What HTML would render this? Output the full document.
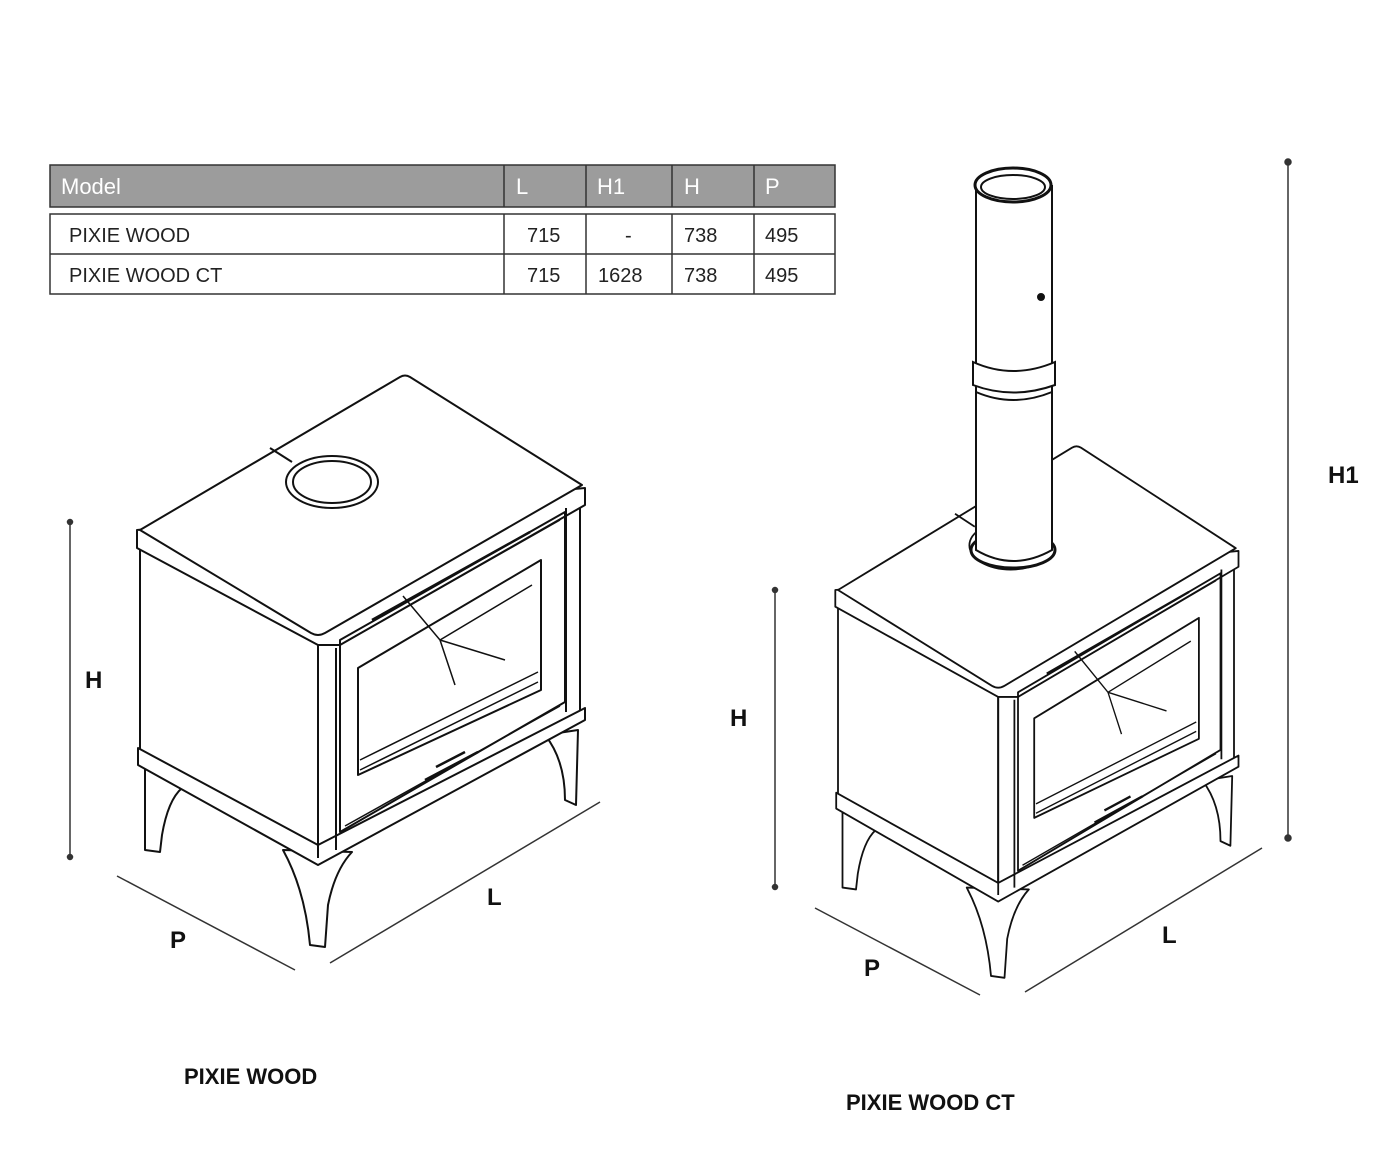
<!DOCTYPE html>
<html><head><meta charset="utf-8"><style>
body{margin:0;background:#fff;width:1400px;height:1152px;overflow:hidden}
svg{position:absolute;left:0;top:0}
text{font-family:"Liberation Sans",sans-serif}
</style></head><body>
<svg width="1400" height="1152" viewBox="0 0 1400 1152">
<g stroke="#333" stroke-width="1.5">
<rect x="50" y="165" width="785" height="42" fill="#9c9c9c"/>
<line x1="504" y1="165" x2="504" y2="207"/><line x1="586" y1="165" x2="586" y2="207"/>
<line x1="672" y1="165" x2="672" y2="207"/><line x1="754" y1="165" x2="754" y2="207"/>
<rect x="50" y="214" width="785" height="80" fill="#fff"/>
<line x1="50" y1="254" x2="835" y2="254"/>
<line x1="504" y1="214" x2="504" y2="294"/><line x1="586" y1="214" x2="586" y2="294"/>
<line x1="672" y1="214" x2="672" y2="294"/><line x1="754" y1="214" x2="754" y2="294"/>
</g>
<g font-size="22" fill="#fff">
<text x="61" y="194">Model</text><text x="516" y="194">L</text><text x="597" y="194">H1</text><text x="684" y="194">H</text><text x="765" y="194">P</text>
</g>
<g font-size="20" fill="#222">
<text x="69" y="242">PIXIE WOOD</text><text x="527" y="242">715</text><text x="625" y="242">-</text><text x="684" y="242">738</text><text x="765" y="242">495</text>
<text x="69" y="282">PIXIE WOOD CT</text><text x="527" y="282">715</text><text x="598" y="282">1628</text><text x="684" y="282">738</text><text x="765" y="282">495</text>
</g>

<defs>
<g id="stove" fill="#fff" stroke="#111" stroke-width="2" stroke-linejoin="round">
 <path d="M145 765 L145 850 L160 852 L162 835 Q168 800 182 788 Z"/>
 <path d="M283 850 Q305 890 310 945 L325 947 L328 905 Q335 870 352 852 Z"/>
 <path d="M545 735 Q565 760 565 800 L576 805 L578 730 Z"/>
 <path d="M140 545 L318 642 L318 858 L140 760 Z"/>
 <path d="M318 642 L580 498 L580 718 L318 858 Z"/>
 <path d="M138 748 L318 845 L585 708 L585 720 L318 865 L138 765 Z"/>
 <path d="M137 530 L137 548 L318 645 L340 645 L585 505 L585 488 Z"/>
 <path d="M140 530 L400 377 Q405 374 410 377 L582 485 L325 633 Q318 637 311 633 Z"/>
 <path d="M270 448 L292 462" fill="none"/>
 <ellipse cx="332" cy="482" rx="46" ry="26"/>
 <ellipse cx="332" cy="482" rx="39" ry="21"/>
 <path d="M318 645 L318 858 M336 648 L336 850 M566 508 L566 712" fill="none"/>
 <path d="M340 640 L565 512 L565 702 L340 832 Z" fill="none"/>
 <path d="M345 642 L560 520 M345 826 L560 706" fill="none" stroke-width="1.5"/>
 <path d="M358 668 L541 560 L541 690 L358 775 Z"/>
 <path d="M360 760 L538 672 M360 770 L538 682" fill="none" stroke-width="1.5"/>
 <path d="M403 596 L440 640 L532 585 M440 640 L455 685 M440 640 L505 660" fill="none" stroke-width="1.5"/>
 <path d="M372 620 L530 532 M425 780 L478 752 M436 767 L465 752" fill="none" stroke-width="2.5"/>
</g>
</defs>

<use href="#stove"/>
<g transform="translate(712 97.1) scale(0.9 0.93)"><use href="#stove"/></g>

<g fill="#fff" stroke="#111" stroke-width="2">
 <ellipse cx="1013" cy="550" rx="42" ry="18" stroke-width="3"/>
 <rect x="976" y="185" width="76" height="365" stroke="none"/>
 <path d="M976 185 L976 550 Q1013 572 1052 550 L1052 185" fill="none"/>
 <path d="M973 362 Q1013 380 1055 362 L1055 385 Q1013 400 973 385 Z"/>
 <path d="M976 392 Q1013 408 1052 392" fill="none"/>
 <ellipse cx="1013" cy="185" rx="38" ry="17" stroke-width="3"/>
 <ellipse cx="1013" cy="187" rx="32" ry="12"/>
 <circle cx="1041" cy="297" r="3" fill="#111"/>
</g>

<g stroke="#333" stroke-width="1.5" fill="#333">
 <line x1="70" y1="522" x2="70" y2="857"/><circle cx="70" cy="522" r="2.5"/><circle cx="70" cy="857" r="2.5"/>
 <line x1="117" y1="876" x2="295" y2="970"/>
 <line x1="330" y1="963" x2="600" y2="802"/>
 <line x1="775" y1="590" x2="775" y2="887"/><circle cx="775" cy="590" r="2.5"/><circle cx="775" cy="887" r="2.5"/>
 <line x1="1288" y1="162" x2="1288" y2="838"/><circle cx="1288" cy="162" r="3"/><circle cx="1288" cy="838" r="3"/>
 <line x1="815" y1="908" x2="980" y2="995"/>
 <line x1="1025" y1="992" x2="1262" y2="848"/>
</g>
<g font-size="24" font-weight="bold" fill="#111">
 <text x="85" y="688">H</text><text x="170" y="948">P</text><text x="487" y="905">L</text>
 <text x="730" y="726">H</text><text x="864" y="976">P</text><text x="1162" y="943">L</text>
 <text x="1328" y="483">H1</text>
</g>
<g font-size="22" font-weight="bold" fill="#111">
 <text x="184" y="1084">PIXIE WOOD</text>
 <text x="846" y="1110">PIXIE WOOD CT</text>
</g>
</svg>
</body></html>
